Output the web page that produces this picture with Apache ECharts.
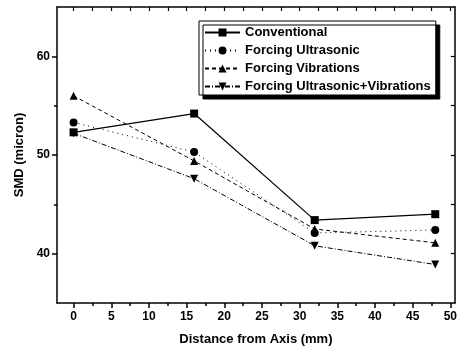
<!DOCTYPE html>
<html lang="en">
<head>
    <meta charset="UTF-8">
    <script src="https://cdn.jsdelivr.net/npm/echarts@6/dist/echarts.min.js"></script>
    <title>SMD vs distance</title>
    <style>
        html, body { margin: 0; padding: 0; background: #fff; }
    </style>
</head>
<body>
    <div id="main" style="width: 460px; height: 351px;"></div>
    <script>
        // data
        var distance = [0, 16, 32, 48];
        var conventional = [52.3, 54.2, 43.4, 44.0];
        var ultrasonic = [53.3, 50.3, 42.1, 42.4];
        var vibrations = [56.0, 49.4, 42.5, 41.1];
        var ultraVib = [52.2, 47.6, 40.8, 38.9];

        var xMajor = [0, 5, 10, 15, 20, 25, 30, 35, 40, 45, 50];
        var xMinor = [2.5, 7.5, 12.5, 17.5, 22.5, 27.5, 32.5, 37.5, 42.5, 47.5];
        var yMajor = [40, 50, 60];
        var yMinor = [45, 55];

        function pairs(ys) {
            return distance.map(function (x, i) { return [x, ys[i]]; });
        }

        var font = 'Liberation Sans, Arial, sans-serif';
        var myChart = echarts.init(document.getElementById('main'));

        var hidden = { show: false };
        var option = {
            animation: false,
            backgroundColor: '#fff',
            grid: { left: 57, right: 3, top: 7, bottom: 48 },
            legend: {
                orient: 'vertical',
                left: 199,
                top: 21,
                padding: [5, 5, 2, 5],
                itemGap: 5,
                itemWidth: 35,
                itemHeight: 10,
                backgroundColor: '#fff',
                borderColor: '#000',
                borderWidth: 1,
                borderRadius: 0,
                shadowColor: '#000',
                shadowBlur: 0,
                shadowOffsetX: 4,
                shadowOffsetY: 4,
                textStyle: { color: '#000', fontSize: 13, fontWeight: 'bold', fontFamily: font },
                data: ['Conventional', 'Forcing Ultrasonic', 'Forcing Vibrations', 'Forcing Ultrasonic+Vibrations']
            },
            xAxis: [
                {   // bottom, labelled
                    type: 'value', min: -2.2, max: 50.6, position: 'bottom',
                    name: 'Distance from Axis (mm)', nameLocation: 'middle', nameGap: 30,
                    nameTextStyle: { color: '#000', fontSize: 13, fontWeight: 'bold', fontFamily: font },
                    axisLine: { onZero: false, lineStyle: { color: '#000', width: 1.5 } },
                    axisTick: { inside: false, length: 5, customValues: xMajor, lineStyle: { color: '#000', width: 1.5 } },
                    axisLabel: { customValues: xMajor, color: '#000', fontSize: 12, fontWeight: 'bold', fontFamily: font, margin: 8 },
                    splitLine: hidden
                },
                {   // bottom minor ticks
                    type: 'value', min: -2.2, max: 50.6, position: 'bottom',
                    axisLine: { show: false, onZero: false },
                    axisTick: { inside: false, length: 3, customValues: xMinor, lineStyle: { color: '#000', width: 1.5 } },
                    axisLabel: hidden, splitLine: hidden
                },
                {   // top mirror
                    type: 'value', min: -2.2, max: 50.6, position: 'top',
                    axisLine: { onZero: false, lineStyle: { color: '#000', width: 1.5 } },
                    axisTick: { inside: true, length: 4, customValues: xMajor.concat(xMinor), lineStyle: { color: '#000', width: 1.2 } },
                    axisLabel: hidden, splitLine: hidden
                }
            ],
            yAxis: [
                {   // left, labelled
                    type: 'value', min: 35, max: 65, position: 'left',
                    name: 'SMD (micron)', nameLocation: 'middle', nameGap: 28,
                    nameTextStyle: { color: '#000', fontSize: 13, fontWeight: 'bold', fontFamily: font },
                    axisLine: { show: true, onZero: false, lineStyle: { color: '#000', width: 1.5 } },
                    axisTick: { show: true, inside: false, length: 5, customValues: yMajor, lineStyle: { color: '#000', width: 1.5 } },
                    axisLabel: { customValues: yMajor, color: '#000', fontSize: 12, fontWeight: 'bold', fontFamily: font, margin: 7 },
                    splitLine: hidden
                },
                {   // left minor ticks
                    type: 'value', min: 35, max: 65, position: 'left',
                    axisLine: { show: false, onZero: false },
                    axisTick: { show: true, inside: false, length: 3, customValues: yMinor, lineStyle: { color: '#000', width: 1.5 } },
                    axisLabel: hidden, splitLine: hidden
                },
                {   // right mirror
                    type: 'value', min: 35, max: 65, position: 'right',
                    axisLine: { show: true, onZero: false, lineStyle: { color: '#000', width: 1.5 } },
                    axisTick: { show: true, inside: true, length: 4, customValues: yMajor.concat(yMinor), lineStyle: { color: '#000', width: 1.2 } },
                    axisLabel: hidden, splitLine: hidden
                }
            ],
            series: [
                {
                    name: 'Conventional', type: 'line', data: pairs(conventional),
                    symbol: 'rect', symbolSize: 8,
                    itemStyle: { color: '#000' },
                    lineStyle: { color: '#000', width: 1.2, type: 'solid' }
                },
                {
                    name: 'Forcing Ultrasonic', type: 'line', data: pairs(ultrasonic),
                    symbol: 'circle', symbolSize: 8,
                    itemStyle: { color: '#000' },
                    lineStyle: { color: '#000', width: 1, type: [1, 4] }
                },
                {
                    name: 'Forcing Vibrations', type: 'line', data: pairs(vibrations),
                    symbol: 'triangle', symbolSize: 8,
                    itemStyle: { color: '#000' },
                    lineStyle: { color: '#000', width: 1, type: [4, 3] }
                },
                {
                    name: 'Forcing Ultrasonic+Vibrations', type: 'line', data: pairs(ultraVib),
                    symbol: 'triangle', symbolRotate: 180, symbolSize: 8,
                    itemStyle: { color: '#000' },
                    lineStyle: { color: '#000', width: 1, type: [5, 2, 1, 2] }
                }
            ]
        };
        myChart.setOption(option);
    </script>
</body>
</html>
